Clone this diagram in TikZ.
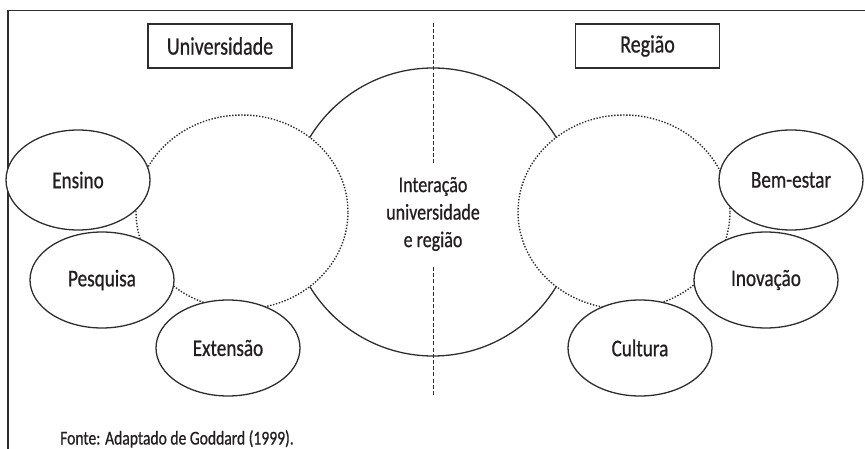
\documentclass[tikz,border=0pt]{standalone}
\usepackage{fontspec}
\setmainfont[FakeStretch=0.8,FakeBold=0.7]{Carlito}
\usetikzlibrary{shapes.geometric}
\definecolor{ink}{HTML}{231F20}
\definecolor{linec}{HTML}{2E2E2E}
\begin{document}
\begin{tikzpicture}[x=1pt,y=-1pt,
  frameline/.style={draw=linec,line width=1.4pt},
  labelbox/.style={draw=linec,line width=1.2pt,minimum width=144pt,minimum height=44pt,inner sep=0pt,
    font=\fontsize{25}{30}\selectfont,text=ink},
  bigcirc/.style={circle,draw=linec,line width=1.3pt,minimum size=288pt,inner sep=0pt},
  dotcirc/.style={ellipse,draw=linec,fill=white,line width=1.4pt,dash pattern=on 1.4pt off 1.6pt,
    minimum width=212pt,minimum height=194pt,inner sep=0pt},
  topic/.style={ellipse,draw=linec,fill=white,line width=1.3pt,minimum width=144pt,minimum height=96pt,
    inner sep=0pt,font=\fontsize{24}{28}\selectfont,text=ink},
  midline/.style={draw=linec,line width=0.9pt,dash pattern=on 4pt off 2.2pt},
]
\useasboundingbox (0,0) rectangle (865,449);
% frame
\coordinate (ftr) at (865,10.5);
\coordinate (ftl) at (8,10.5);
\coordinate (fbl) at (8,449);
\draw[frameline] (ftr) -- (ftl) -- (fbl);
% title boxes
\node[labelbox] (univ) at (220,46) {Universidade};
\node[labelbox] (regiao) at (647.5,46) {Região};
% big circle
\node[bigcirc] (inter) at (433,212) {};
% dotted circles
\node[dotcirc] (ucirc) at (242,212) {};
\node[dotcirc] (rcirc) at (624,212) {};
% topic ellipses
\node[topic,minimum height=100pt] (ensino) at (78,180) {Ensino};
\node[topic] (pesquisa) at (102,280) {Pesquisa};
\node[topic] (extensao) at (228,348) {Extensão};
\node[topic,minimum height=100pt] (bemestar) at (791,180) {Bem-estar};
\node[topic] (inovacao) at (766,280) {Inovação};
\node[topic] (cultura) at (640,348) {Cultura};
% vertical dashed line
\coordinate (v1) at (433,23);
\coordinate (v2) at (433,163);
\coordinate (v3) at (433,267);
\coordinate (v4) at (433,397);
\draw[midline] (v1) -- (v2);
\draw[midline] (v3) -- (v4);
% centre text
\node[align=center,inner sep=0pt,text=ink,font=\fontsize{22.5}{27.5}\selectfont] (intertxt) at (433,214)
  {Interação\\universidade\\e região};
% source
\node[anchor=base west,inner sep=0pt,text=ink,font=\fontsize{19.5}{22}\selectfont] (fonte) at (60,444.5)
  {Fonte: Adaptado de Goddard (1999).};
\end{tikzpicture}
\end{document}
